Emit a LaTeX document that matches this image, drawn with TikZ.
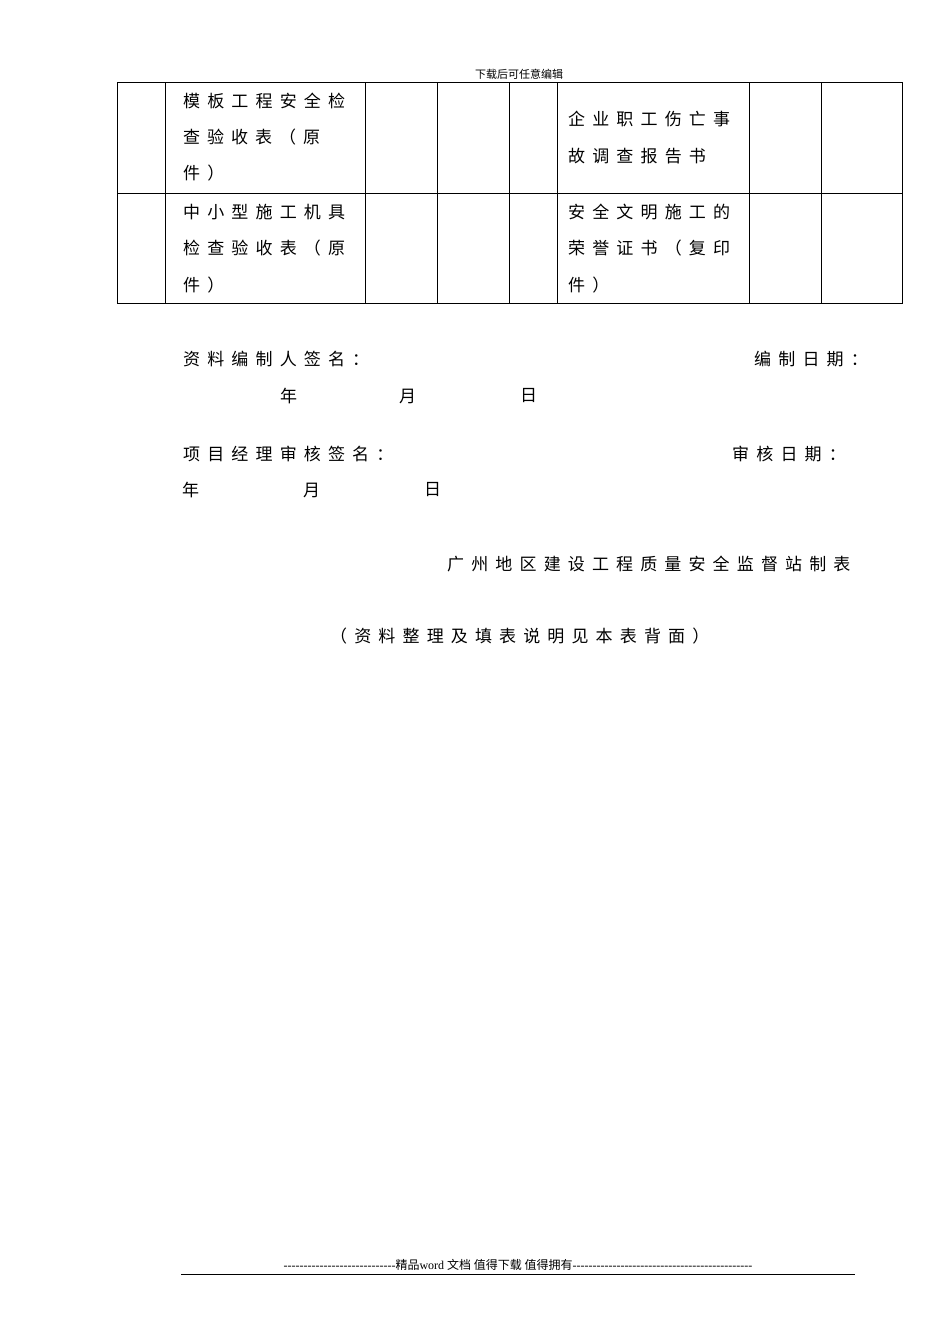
\documentclass[tikz,border=0pt]{standalone}
\usepackage{fontspec}
\setmainfont{Noto Sans CJK SC}
\newfontfamily\spcjk[LetterSpace=42]{Noto Sans CJK SC}
\newfontfamily\latfont{Liberation Serif}
\begin{document}
\begin{tikzpicture}[x=1pt,y=-1pt,
 t/.style={anchor=west,inner sep=0pt,font=\fontsize{17}{17}\spcjk},
 line/.style={line width=0.8pt}]
\useasboundingbox (0,0) rectangle (950,1344);
\fill[white] (0,0) rectangle (950,1344);
\node[font=\fontsize{11}{11}\selectfont] (hdr) at (519,74) {下载后可任意编辑};
% table
\draw[line] (117,82) rectangle (902,303);
\draw[line] (117,193) -- (902,193);
\foreach \x in {165,365,437,509,557,749,821} \draw[line] (\x,82) -- (\x,303);
\node[t] (a1) at (183,101) {模板工程安全检};
\node[t] (a2) at (183,137) {查\hspace{7pt}验\hspace{7pt}收\hspace{7pt}表\hspace{7pt}（\hspace{7pt}原};
\node[t] (a3) at (183,173) {件）};
\node[t] (b1) at (183,212) {中小型施工机具};
\node[t] (b2) at (183,248) {检查验收表（原};
\node[t] (b3) at (183,285) {件）};
\node[t] (c1) at (568,119) {企业职工伤亡事};
\node[t] (c2) at (568,156) {故调查报告书};
\node[t] (d1) at (568,212) {安全文明施工的};
\node[t] (d2) at (568,248) {荣誉证书（复印};
\node[t] (d3) at (568,285) {件）};
% signatures
\node[t] (s1) at (183,359) {资料编制人签名：};
\node[t,anchor=east] (s2) at (868,359) {编制日期：};
\node[t] (y1) at (280,396) {年};
\node[t] (m1) at (399,396) {月};
\node[t] (dd1) at (520,396) {日};
\node[t] (s3) at (183,454) {项目经理审核签名：};
\node[t,anchor=east] (s4) at (846,454) {审核日期：};
\node[t] (y2) at (182,490) {年};
\node[t] (m2) at (303,490) {月};
\node[t] (dd2) at (424,490) {日};
\node[t] (org) at (447,564) {广州地区建设工程质量安全监督站制表};
\node[t] (note) at (330,636) {（资料整理及填表说明见本表背面）};
% footer
\node[inner sep=0pt,font=\fontsize{12}{12}\selectfont] (ftr) at (518,1265) {{\latfont ----------------------------}精品{\latfont word }文档 值得下载 值得拥有{\latfont ---------------------------------------------}};
\draw[line] (181,1274) -- (855,1274);
\end{tikzpicture}
\end{document}
